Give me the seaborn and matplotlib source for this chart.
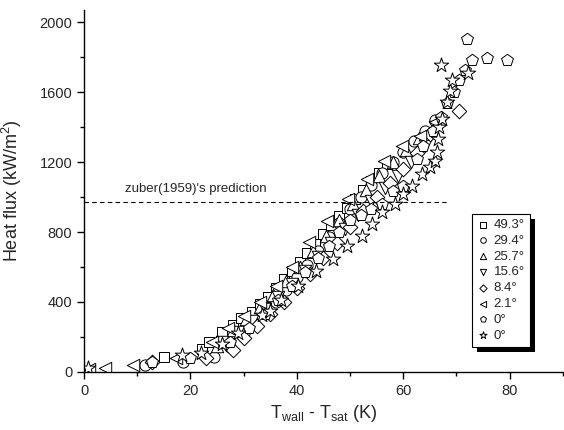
import matplotlib
matplotlib.use("Agg")
import matplotlib.pyplot as plt
import seaborn as sns
from matplotlib.patches import Rectangle

# wall superheat (K) and heat flux (kW/m2) for each inclination angle
sq_x = [15.0, 22.2, 23.5, 26.0, 28.0, 29.5, 31.5, 33.0, 34.5, 36.0, 37.5, 39.0, 40.5, 42.0, 43.5, 45.0, 46.5, 48.0, 49.5, 51.0, 52.5, 54.0, 55.5, 57.0]
sq_y = [86, 132, 172, 230, 270, 310, 340, 390, 430, 480, 530, 580, 630, 680, 730, 790, 840, 890, 940, 990, 1040, 1090, 1140, 1190]

ci_x = [11.5, 18.6, 24.4, 27.4, 30.0, 32.0, 34.0, 36.0, 38.0, 40.0, 42.0, 44.0, 46.0, 48.0, 50.0, 52.0, 54.0, 56.0, 58.0, 60.0, 62.0, 64.0, 66.0]
ci_y = [40, 57, 86, 144, 220, 280, 340, 400, 470, 540, 610, 690, 770, 850, 930, 1000, 1070, 1140, 1200, 1260, 1320, 1380, 1440]

tu_x = [25.0, 28.0, 30.5, 33.0, 35.5, 38.0, 40.5, 43.0, 45.5, 48.0, 50.5, 53.0, 55.5, 58.0, 60.5, 63.0]
tu_y = [150, 240, 300, 370, 440, 520, 600, 690, 780, 870, 960, 1040, 1120, 1200, 1270, 1340]

td_x = [26.0, 29.0, 31.5, 34.0, 36.5, 39.0, 41.5, 44.0, 46.5, 49.0, 51.5, 54.0, 56.5, 59.0, 61.5, 64.0, 66.0]
td_y = [170, 230, 290, 360, 430, 500, 580, 660, 740, 820, 900, 980, 1050, 1120, 1200, 1290, 1400]

di_x = [12.8, 23.0, 28.0, 30.0, 32.5, 35.0, 37.5, 40.0, 42.5, 45.0, 47.5, 50.0, 52.5, 55.0, 57.5, 60.0, 62.5, 65.0, 70.5]
di_y = [55, 80, 126, 195, 260, 330, 400, 480, 560, 650, 740, 830, 920, 1000, 1080, 1160, 1250, 1360, 1494]

tl_x = [0.9, 4.0, 9.2, 17.3, 24.0, 27.0, 30.0, 33.0, 36.0, 39.0, 42.3, 45.7, 49.6, 53.2, 56.4, 59.8, 63.2, 66.0]
tl_y = [15, 23, 40, 80, 170, 250, 320, 400, 490, 600, 741, 862, 988, 1103, 1207, 1293, 1351, 1430]

pe_x = [12.8, 20.0, 27.5, 31.0, 34.0, 36.5, 39.0, 41.5, 44.0, 46.0, 48.0, 50.0, 52.0, 54.0, 56.0, 58.0, 60.0, 62.6, 63.7, 65.5, 67.0, 68.2, 69.5, 70.5, 71.6, 72.9, 72.0, 75.8, 79.5]
pe_y = [57, 80, 170, 250, 330, 410, 490, 570, 650, 720, 800, 870, 900, 930, 960, 1034, 1063, 1218, 1293, 1380, 1460, 1540, 1603, 1667, 1724, 1781, 1904, 1793, 1781]

st_x = [0.8, 18.4, 22.0, 26.0, 29.0, 33.5, 35.0, 37.0, 40.2, 43.6, 46.8, 49.4, 52.3, 54.1, 56.0, 58.5, 60.0, 61.7, 63.5, 65.0, 66.0, 66.4, 66.6, 66.7, 67.3, 68.2, 68.8, 69.2, 67.1, 72.2]
st_y = [23, 98, 110, 160, 220, 328, 350, 410, 489, 575, 644, 718, 776, 845, 914, 960, 1017, 1063, 1132, 1172, 1207, 1259, 1333, 1402, 1448, 1546, 1609, 1667, 1753, 1707]

labels = ["49.3°", "29.4°", "25.7°", "15.6°", "8.4°", "2.1°", "0°", "0°"]
series = [(sq_x, sq_y), (ci_x, ci_y), (tu_x, tu_y), (td_x, td_y),
          (di_x, di_y), (tl_x, tl_y), (pe_x, pe_y), (st_x, st_y)]
markers = ["s", "o", "^", "v", "D", "<", "p", "*"]
sizes = [60, 65, 80, 80, 55, 80, 80, 120]

zuber_q = 970

sns.set_style("ticks")
plt.rcParams["font.family"] = ["Liberation Sans", "DejaVu Sans"]

fig, ax = plt.subplots(figsize=(5.64, 4.30), dpi=100)
fig.subplots_adjust(left=0.149, right=0.998, bottom=0.135, top=0.977)

for (xs, ys), m, s, lab in zip(series, markers, sizes, labels):
    sns.scatterplot(x=xs, y=ys, marker=m, s=s, facecolor="white",
                    edgecolor="black", linewidth=0.7, label=lab, ax=ax)

ax.plot([0, 68], [zuber_q, zuber_q], color="black", linestyle="--",
        linewidth=0.8, dashes=(4, 3))
ax.text(7.7, zuber_q + 40, "zuber(1959)'s prediction", fontsize=9.5, va="bottom")

ax.set_xlim(0, 90)
ax.set_ylim(0, 2070)
ax.set_xticks([0, 20, 40, 60, 80])
ax.set_xticks([10, 30, 50, 70, 90], minor=True)
ax.set_yticks([0, 400, 800, 1200, 1600, 2000])
ax.set_yticks([200, 600, 1000, 1400, 1800], minor=True)
ax.tick_params(which="major", length=5, width=1, labelsize=10.5, color="black")
ax.tick_params(which="minor", length=3, width=1, color="black")
sns.despine(ax=ax)
for sp in ["left", "bottom"]:
    ax.spines[sp].set_linewidth(1)
    ax.spines[sp].set_color("black")

ax.set_xlabel("T$_{\\mathregular{wall}}$ - T$_{\\mathregular{sat}}$ (K)", fontsize=13)
ax.set_ylabel("Heat flux (kW/m$^{\\mathregular{2}}$)", fontsize=13)
ax.yaxis.set_label_coords(-0.125, 0.5)

leg = ax.legend(loc="lower left", bbox_to_anchor=(0.81, 0.069), borderaxespad=0,
                fontsize=9.5, markerscale=0.5, labelspacing=0.27,
                handletextpad=0.35, handlelength=0.9, borderpad=0.4,
                frameon=True, fancybox=False, framealpha=1, edgecolor="black")
leg.get_frame().set_linewidth(0.8)

# heavy black drop shadow behind the legend box
fig.canvas.draw()
bb = leg.get_window_extent()
shadow = Rectangle((bb.x0 + 5, bb.y0 - 5), bb.width, bb.height, transform=None,
                   facecolor="black", edgecolor="none", zorder=4.5)
ax.add_artist(shadow)

plt.savefig("out.png", dpi=100)
plt.close()
